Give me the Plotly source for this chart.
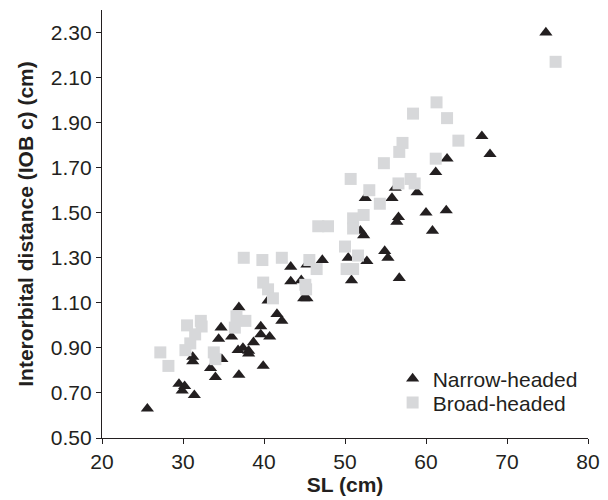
import plotly.graph_objects as go

# Narrow-headed (triangles)
narrow_sl = [25.6, 29.5, 30.2, 29.9, 31.4, 31.2, 31.2, 33.4, 34.0, 34.7, 34.4, 36.0,
             36.9, 36.9, 36.8, 37.4, 38.1, 38.7, 38.1, 39.6, 39.6, 39.9, 34.8, 40.7,
             41.6, 42.2, 40.5, 44.9, 45.3, 44.6, 43.3, 43.3, 45.3, 47.2, 50.4, 52.7,
             50.8, 52.3, 51.9, 54.9, 55.3, 56.7, 56.4, 56.6, 52.5, 55.8, 56.2, 58.9,
             60.0, 62.5, 60.8, 61.2, 62.6, 66.9, 67.9, 74.8]
narrow_iob = [0.63, 0.74, 0.73, 0.71, 0.69, 0.86, 0.84, 0.81, 0.77, 0.99, 0.94, 0.95,
              1.08, 0.78, 0.89, 0.90, 0.887, 0.925, 0.875, 0.995, 0.96, 0.82, 0.85, 0.95,
              1.05, 1.02, 1.11, 1.12, 1.12, 1.20, 1.26, 1.195, 1.27, 1.29, 1.30, 1.285,
              1.20, 1.40, 1.42, 1.33, 1.30, 1.21, 1.46, 1.48, 1.565, 1.565, 1.61, 1.59,
              1.50, 1.51, 1.42, 1.68, 1.74, 1.84, 1.76, 2.30]

# Broad-headed (squares)
broad_sl = [27.2, 28.2, 30.5, 32.2, 32.3, 30.9, 30.3, 31.5, 33.8, 34.0, 36.6, 37.7,
            36.4, 37.5, 39.8, 42.2, 39.9, 40.5, 41.1, 45.6, 46.5, 45.1, 45.2, 46.7,
            47.9, 50.0, 51.6, 50.2, 51.0, 51.0, 52.3, 51.0, 54.3, 53.0, 50.7, 54.8,
            56.7, 57.1, 64.0, 61.2, 58.1, 58.6, 56.6, 58.4, 61.3, 62.6, 76.0]
broad_iob = [0.88, 0.82, 1.00, 1.02, 0.995, 0.92, 0.89, 0.96, 0.88, 0.85, 1.04, 1.02,
             0.99, 1.30, 1.29, 1.30, 1.19, 1.16, 1.12, 1.29, 1.25, 1.18, 1.16, 1.44,
             1.44, 1.35, 1.31, 1.25, 1.25, 1.475, 1.49, 1.43, 1.54, 1.60, 1.65, 1.72,
             1.77, 1.81, 1.82, 1.74, 1.65, 1.63, 1.63, 1.94, 1.99, 1.92, 2.17]

x_ticks = [20, 30, 40, 50, 60, 70, 80]
y_ticks = [0.50, 0.70, 0.90, 1.10, 1.30, 1.50, 1.70, 1.90, 2.10, 2.30]

FONT = "Liberation Sans, Arial, sans-serif"
INK = "#231f20"

fig = go.Figure()
fig.add_trace(go.Scatter(
    x=narrow_sl, y=narrow_iob, mode="markers", name="Narrow-headed",
    marker=dict(symbol="triangle-up", size=11.5, color=INK, line=dict(width=0)),
    legend="legend", showlegend=True,
))
fig.add_trace(go.Scatter(
    x=broad_sl, y=broad_iob, mode="markers", name="Broad-headed",
    marker=dict(symbol="square", size=12, color="#d7d8da", line=dict(width=0)),
    legend="legend2", showlegend=True,
))

axis_common = dict(
    showline=True, linecolor=INK, linewidth=1.3, ticks="outside", ticklen=5,
    tickwidth=1.3, tickcolor=INK, showgrid=False, zeroline=False,
    tickfont=dict(family=FONT, size=21, color=INK),
)

fig.update_layout(
    width=600, height=492,
    margin=dict(l=94, r=20, t=2, b=62),
    paper_bgcolor="white", plot_bgcolor="white",
    font=dict(family=FONT, size=21, color=INK),
    showlegend=True,
    xaxis=dict(range=[20, 80], tickvals=x_ticks, ticktext=[str(v) for v in x_ticks],
               title=dict(text="<b>SL (cm)</b>", font=dict(family=FONT, size=21, color=INK), standoff=4),
               **axis_common),
    yaxis=dict(range=[0.5, 2.4], tickvals=y_ticks, ticktext=[f"{v:.2f}" for v in y_ticks],
               title=dict(text="<b>Interorbital distance (IOB c) (cm)</b>",
                          font=dict(family=FONT, size=21, color=INK), standoff=11),
               **axis_common),
    legend=dict(x=0.598, y=0.138, xanchor="left", yanchor="middle",
                bgcolor="rgba(0,0,0,0)", font=dict(family=FONT, size=21, color=INK)),
    legend2=dict(x=0.598, y=0.082, xanchor="left", yanchor="middle",
                 bgcolor="rgba(0,0,0,0)", font=dict(family=FONT, size=21, color=INK)),
)

fig.write_html("out.html")
